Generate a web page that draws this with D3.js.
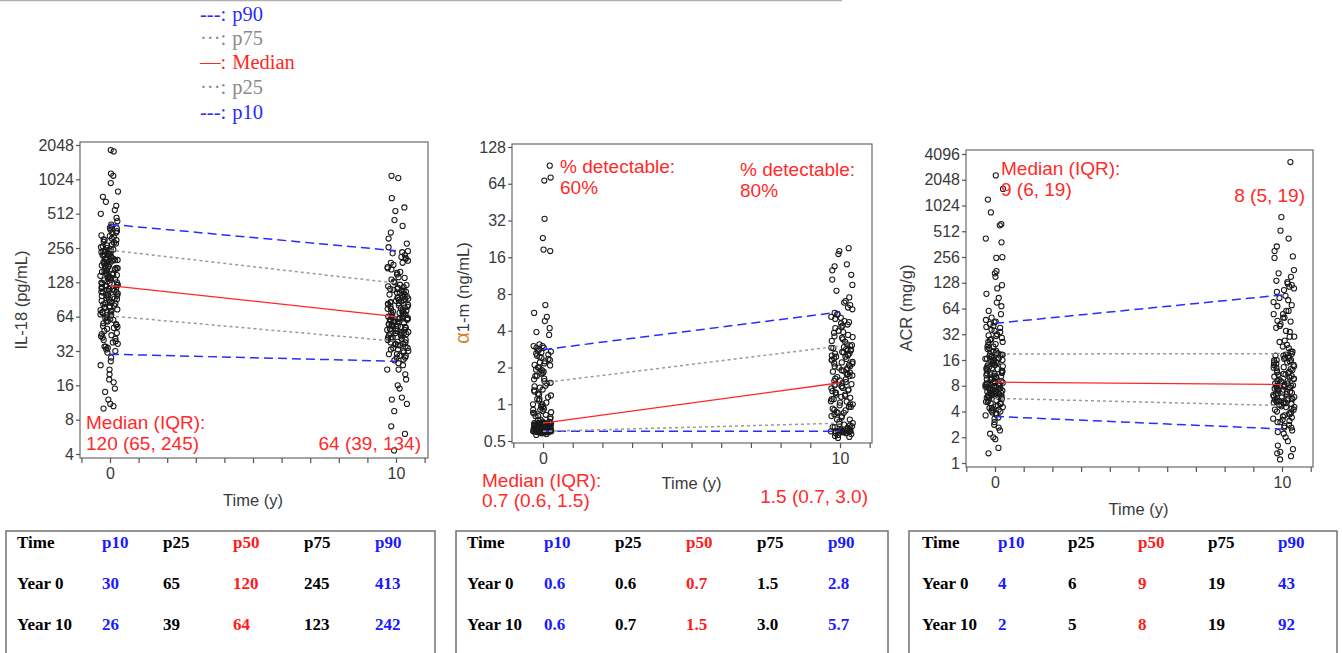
<!DOCTYPE html>
<html>
<head>
<meta charset="utf-8">
<script src="https://cdn.jsdelivr.net/npm/d3@7"></script>
<style>
  body { margin: 0; background: #fff; }
  svg { display: block; font-family: "Liberation Sans", Arial, sans-serif; }
</style>
</head>
<body>
<div id="chart"></div>
<script>
// ---- data ----
var times = [0, 10];
var pctKeys = ['p10', 'p25', 'p50', 'p75', 'p90'];
var tableHeader = ['Time', 'p10', 'p25', 'p50', 'p75', 'p90'];
var tableRows = ['Year 0', 'Year 10'];

var legendLabels = ['p90', 'p75', 'Median', 'p25', 'p10'];
var legendSymbols = ['---:', '\u00b7\u00b7\u00b7:', '\u2014:', '\u00b7\u00b7\u00b7:', '---:'];

// IL-18 (pg/mL)
var il18Ticks = [4, 8, 16, 32, 64, 128, 256, 512, 1024, 2048];
var il18Year0 = [10, 10.5, 11, 12, 14, 15, 17, 18, 20, 22, 24, 26, 28,
  31, 32, 33, 34, 35, 37, 38, 39, 41, 43, 44, 46, 48, 51, 53, 54, 56, 59, 61, 63,
  66, 68, 70, 72, 74, 76, 78, 80, 83, 85, 88, 90, 92, 95, 97, 100, 102, 105, 107, 110, 112, 114, 116, 118, 119,
  66, 71, 77, 84, 91, 98, 104, 111, 117,
  122, 126, 130, 134, 138, 142, 146, 150, 155, 160, 165, 170, 175, 180, 186, 192, 198, 205, 210, 216, 222, 228, 234, 240, 244,
  128, 140, 152, 168, 184, 200, 220, 238,
  250, 260, 270, 280, 290, 300, 310, 320, 330, 345, 360, 370, 385, 395, 410,
  440, 470, 510, 550, 600, 650, 720, 800, 950, 1100, 1150, 1800, 1850,
  35, 40, 45, 50, 55, 58, 62, 67, 73, 79, 86, 93, 99, 106, 113, 121, 127, 133, 139, 145, 151, 158, 164, 171, 178,
  185, 193, 201, 209, 218, 226, 235, 243, 255, 265, 285, 305, 325, 350, 380,
  42, 52, 60, 69, 82, 96, 108, 124, 136, 148, 162, 176, 190, 206, 224, 248, 275, 300];
var il18Year10 = [4.3, 6, 7, 9.5, 11, 12, 12.5, 15, 16, 18, 20, 22, 24,
  26.5, 27, 28, 29, 30, 31, 32, 33, 34, 35, 36, 36.5, 37, 38, 38.5,
  40, 41, 42, 43, 44, 45, 46, 47, 48, 49, 50, 51, 52, 53, 54, 55, 56, 57, 58, 59, 60, 61, 62, 63, 63.5,
  42, 46, 50, 54, 58, 62,
  65, 67, 69, 71, 73, 75, 77, 79, 81, 83, 85, 87, 89, 91, 93, 95, 97, 100, 103, 106, 109, 112, 115, 118, 121,
  68, 76, 84, 92, 102, 112,
  128, 135, 142, 150, 158, 166, 174, 182, 190, 198, 206, 214, 222, 230, 240,
  260, 280, 310, 350, 400, 450, 540, 580, 700, 1050, 1100,
  22, 25, 28, 30, 32, 34, 36, 38, 40, 42, 44, 46, 48, 50, 52, 55, 58, 61, 64, 66, 69, 72, 75, 78, 82,
  86, 90, 94, 99, 104, 110, 116, 122, 130, 140, 155, 170, 190, 210, 235,
  29, 33, 37, 41, 45, 49, 53, 57, 60, 63, 67, 71, 80, 88, 96, 108];
// rows: p10, p25, p50, p75, p90 ; columns: year 0, year 10
var il18Pct = [[30, 26], [65, 39], [120, 64], [245, 126], [413, 242]];
var il18Table = [['30', '65', '120', '245', '413'], ['26', '39', '64', '123', '242']];

// alpha1-microglobulin (ng/mL)
var a1mTicks = [0.5, 1, 2, 4, 8, 16, 32, 64, 128];
var a1mYear0 = [0.56, 0.57, 0.58, 0.58, 0.59, 0.59, 0.59, 0.6, 0.6, 0.6, 0.6, 0.6, 0.6, 0.6, 0.6, 0.6, 0.61, 0.61, 0.61, 0.62, 0.62, 0.62, 0.63, 0.63, 0.64,
  0.6, 0.6, 0.6, 0.6, 0.6, 0.6, 0.6, 0.6, 0.6, 0.6,
  0.64, 0.64, 0.65, 0.65, 0.65, 0.66, 0.66, 0.66, 0.67, 0.67, 0.67, 0.68, 0.68, 0.68, 0.69, 0.69, 0.69, 0.69, 0.7, 0.7, 0.7, 0.7, 0.7, 0.7, 0.7,
  0.72, 0.74, 0.76, 0.78, 0.8, 0.82, 0.84, 0.86, 0.88, 0.9, 0.92, 0.95, 0.98, 1.0, 1.03, 1.07, 1.1, 1.14, 1.18, 1.22, 1.27, 1.32, 1.37, 1.42, 1.48,
  1.55, 1.62, 1.7, 1.78, 1.85, 1.92, 2.0, 2.08, 2.16, 2.25, 2.35, 2.45, 2.55, 2.65, 2.75,
  2.9, 3.0, 3.1, 3.7, 3.9, 4.2, 4.8, 5.2, 5.6, 6.5, 18, 18.5, 23, 33, 68, 72, 90,
  0.6, 0.6, 0.6, 0.6, 0.6, 0.6, 0.6, 0.6, 0.6, 0.6, 0.62, 0.64, 0.66, 0.68, 0.7, 0.72, 0.75, 0.8, 0.85, 0.9,
  0.95, 1.0, 1.1, 1.2, 1.3, 1.4, 1.5, 1.6, 1.7, 1.8, 1.9, 2.0, 2.1, 2.2, 2.3, 2.4, 2.5, 2.6, 2.7, 2.8, 2.9, 3.0,
  0.61, 0.63, 0.65, 0.67, 0.69];
var a1mYear10 = [0.53, 0.54, 0.55, 0.56, 0.57, 0.58, 0.58, 0.59, 0.59, 0.6,
  0.6, 0.6, 0.6, 0.6, 0.61, 0.61, 0.62, 0.62, 0.63, 0.64, 0.65, 0.66, 0.67, 0.68, 0.69,
  0.72, 0.75, 0.78, 0.8, 0.83, 0.86, 0.89, 0.92, 0.95, 0.98, 1.0, 1.03, 1.06, 1.1, 1.13, 1.17, 1.2, 1.24, 1.28, 1.32, 1.36, 1.4, 1.43, 1.46, 1.49,
  0.85, 1.05, 1.25, 1.45,
  1.52, 1.57, 1.62, 1.67, 1.72, 1.77, 1.82, 1.87, 1.92, 1.98, 2.04, 2.1, 2.16, 2.22, 2.3, 2.38, 2.45, 2.52, 2.6, 2.68, 2.75, 2.82, 2.88, 2.94, 2.99,
  1.6, 1.9, 2.2, 2.5, 2.8,
  3.1, 3.25, 3.4, 3.55, 3.7, 3.85, 4.0, 4.2, 4.4, 4.6, 4.8, 5.0, 5.2, 5.4, 5.6,
  6.0, 6.5, 7.0, 7.5, 8.5, 9.5, 10.5, 11.5, 12.5, 13.5, 14, 17, 18, 19,
  0.6, 0.6, 0.6, 0.6, 0.6, 0.6, 0.65, 0.7, 0.75, 0.8, 0.9, 1.0, 1.1, 1.2, 1.3, 1.4, 1.55, 1.7, 1.85, 2.0,
  2.15, 2.3, 2.45, 2.6, 2.75, 2.9, 3.05, 3.3, 3.6, 3.9, 4.3, 4.7, 5.1, 5.5, 6.2, 6.8,
  0.85, 0.95, 1.15, 1.35, 1.75, 2.05, 2.35, 2.65, 3.5, 4.5];
var a1mPct = [[0.6, 0.6], [0.6, 0.7], [0.7, 1.5], [1.5, 3.0], [2.8, 5.7]];
var a1mTable = [['0.6', '0.6', '0.7', '1.5', '2.8'], ['0.6', '0.7', '1.5', '3.0', '5.7']];

// ACR (mg/g)
var acrTicks = [1, 2, 4, 8, 16, 32, 64, 128, 256, 512, 1024, 2048, 4096];
var acrYear0 = [1.3, 1.5, 1.9, 2.0, 2.2, 2.4, 2.6, 2.8, 3.0, 3.3,
  3.6, 3.7, 3.8, 3.9, 4.0, 4.1, 4.2, 4.4, 4.5, 4.7, 4.9, 5.0, 5.2, 5.4, 5.6,
  5.8, 5.9, 6.0, 6.1, 6.2, 6.3, 6.4, 6.5, 6.6, 6.7, 6.8, 6.9, 7.0, 7.1, 7.2, 7.4, 7.5, 7.7, 7.8, 8.0, 8.1, 8.3, 8.4, 8.6, 8.7,
  6.0, 6.6, 7.3, 7.9, 8.5,
  9.0, 9.3, 9.6, 9.9, 10.2, 10.5, 10.9, 11.3, 11.7, 12.1, 12.5, 13, 13.5, 14, 14.5, 15, 15.5, 16, 16.5, 17, 17.4, 17.8, 18.1, 18.4, 18.7,
  9.5, 11, 12.8, 14.8, 16.8,
  19.5, 20.5, 21.5, 23, 24.5, 26, 27.5, 29, 30.5, 32, 34, 36, 38, 40, 42,
  45, 47, 50, 55, 60, 68, 75, 85, 95, 110, 120, 150, 165, 175, 250, 255, 380, 420, 600, 620, 850, 1200, 1600, 2300,
  3.4, 3.8, 4.2, 4.6, 5.0, 5.4, 5.8, 6.2, 6.6, 7.0, 7.4, 7.8, 8.2, 8.6, 9.0, 9.5, 10, 10.6, 11.2, 11.8,
  12.5, 13.2, 14, 14.8, 15.6, 16.5, 17.5, 18.5, 20, 22, 24, 26, 28, 31, 35, 39, 44,
  4.4, 5.2, 6.4, 7.6, 8.8, 10.3, 12, 13.8, 16, 19, 23];
var acrYear10 = [1.1, 1.2, 1.3, 1.35, 1.45, 1.6, 1.8, 2.0, 2.2, 2.4,
  2.6, 2.7, 2.8, 3.0, 3.1, 3.2, 3.4, 3.5, 3.7, 3.8, 4.0, 4.2, 4.3, 4.5, 4.6,
  4.8, 4.9, 5.0, 5.1, 5.2, 5.3, 5.4, 5.5, 5.6, 5.8, 5.9, 6.0, 6.2, 6.4, 6.6, 6.8, 7.0, 7.2, 7.4, 7.6, 7.8, 7.9, 8.0, 8.1, 8.2,
  5.0, 5.7, 6.5, 7.3,
  8.5, 8.8, 9.1, 9.4, 9.7, 10, 10.4, 10.8, 11.2, 11.6, 12, 12.5, 13, 13.5, 14, 14.5, 15, 15.5, 16, 16.5, 17, 17.5, 18, 18.5, 18.9,
  9.2, 11, 13.2, 15.8,
  20, 22, 24, 27, 30, 34, 38, 42, 46, 50, 55, 60, 68, 76, 85,
  100, 110, 120, 130, 150, 165, 180, 250, 260, 300, 340, 420, 520, 750, 3300,
  2.3, 2.6, 3.0, 3.3, 3.6, 3.9, 4.2, 4.5, 4.8, 5.1, 5.4, 5.7, 6.0, 6.4, 6.8, 7.2, 7.6, 8.0, 8.5, 9.0,
  9.6, 10.2, 10.8, 11.5, 12.2, 13, 14, 15, 16, 17, 18, 20, 23, 26, 30, 35, 40, 45, 50, 55,
  60, 70, 80, 90, 105, 115, 125, 135];
var acrPct = [[3.5, 2.5], [5.7, 4.7], [8.8, 8.3], [18.8, 19], [43, 92]];
var acrTable = [['4', '6', '9', '19', '43'], ['2', '5', '8', '19', '92']];

// ---- styles ----
var blue = '#2b2bff', grey = '#9a9a9a', red = '#ff2626';
var pctColor = [blue, grey, red, grey, blue];
var pctDash = ['9,5', '3,3', null, '3,3', '9,5'];
var tableColColor = ['#000', '#1a1aff', '#000', '#ff1a1a', '#000', '#1a1aff'];
var legendColors = [blue, '#8a8a8a', red, '#8a8a8a', blue];

var svg = d3.select('#chart').append('svg')
  .attr('width', 1342)
  .attr('height', 653);

// clipped caption line at the very top
svg.append('line')
  .attr('x1', 0).attr('x2', 842).attr('y1', 0.5).attr('y2', 0.5)
  .attr('stroke', '#b0b0b0').attr('stroke-width', 1.5);

drawLegend();

drawPanel({
  frame: [80, 428, 142, 458], x0: 110, x10: 396,
  yDomain: [4, 2048], yRange: [454, 145], ticks: il18Ticks,
  year0: il18Year0, year10: il18Year10, pct: il18Pct,
  yLabel: 'IL-18 (pg/mL)', yLabelX: 21, yLabelY: 300,
  timeY: 506, tickY: 479,
  notes: [
    { text: 'Median (IQR):', x: 86, y: 429, anchor: 'start' },
    { text: '120 (65, 245)', x: 86, y: 450, anchor: 'start' },
    { text: '64 (39, 134)', x: 421, y: 450, anchor: 'end' }
  ]
});

drawPanel({
  frame: [512, 872, 144, 443], x0: 543, x10: 840,
  yDomain: [0.5, 128], yRange: [441, 147], ticks: a1mTicks,
  year0: a1mYear0, year10: a1mYear10, pct: a1mPct,
  yLabel: 'a1-m (ng/mL)', alpha: true, yLabelX: 463, yLabelY: 293,
  timeY: 489, tickY: 464,
  notes: [
    { text: '% detectable:', x: 560, y: 173, anchor: 'start' },
    { text: '60%', x: 560, y: 194, anchor: 'start' },
    { text: '% detectable:', x: 740, y: 176, anchor: 'start' },
    { text: '80%', x: 740, y: 197, anchor: 'start' },
    { text: 'Median (IQR):', x: 482, y: 487, anchor: 'start' },
    { text: '0.7 (0.6, 1.5)', x: 482, y: 507, anchor: 'start' },
    { text: '1.5 (0.7, 3.0)', x: 868, y: 503, anchor: 'end' }
  ]
});

drawPanel({
  frame: [966, 1313, 150, 467], x0: 995, x10: 1282,
  yDomain: [1, 4096], yRange: [463, 154], ticks: acrTicks,
  year0: acrYear0, year10: acrYear10, pct: acrPct,
  yLabel: 'ACR (mg/g)', yLabelX: 906, yLabelY: 308,
  timeY: 515, tickY: 488,
  notes: [
    { text: 'Median (IQR):', x: 1001, y: 175, anchor: 'start' },
    { text: '9 (6, 19)', x: 1001, y: 196, anchor: 'start' },
    { text: '8 (5, 19)', x: 1305, y: 202, anchor: 'end' }
  ]
});

drawTable(il18Table, 6, 435, [17, 102, 163, 233, 304, 375]);
drawTable(a1mTable, 456, 888, [467, 544, 615, 686, 757, 828]);
drawTable(acrTable, 909, 1337, [922, 998, 1068, 1138, 1208, 1278]);

// ################################
function drawLegend() {
  var baseY = [21, 45, 69, 94, 119];
  var g = svg.append('g').attr('font-family', '"Liberation Serif", "Times New Roman", serif');
  legendLabels.forEach(function(lab, i) {
    var t = g.append('text')
      .attr('x', 200).attr('y', baseY[i])
      .attr('font-size', 20.5)
      .attr('fill', legendColors[i]);
    t.append('tspan').text(legendSymbols[i]);
    t.append('tspan').attr('dx', 6).text(lab);
  });
}

function jitter(i, width, centre) {
  // deterministic scatter across the band (hash of the point index)
  var s = Math.sin(i * 12.9898 + 78.233) * 43758.5453;
  var f = s - Math.floor(s);
  return centre + (f - 0.5) * width;
}

function drawPanel(cfg) {
  var left = cfg.frame[0], right = cfg.frame[1], top = cfg.frame[2], bottom = cfg.frame[3];
  var x = d3.scaleLinear().domain([0, 10]).range([cfg.x0, cfg.x10]);
  var y = d3.scaleLog().base(2).domain(cfg.yDomain).range(cfg.yRange);
  var g = svg.append('g');

  g.append('rect')
    .attr('x', left).attr('y', top)
    .attr('width', right - left).attr('height', bottom - top)
    .attr('fill', 'none').attr('stroke', '#6a6a6a').attr('stroke-width', 1.2);

  // x axis
  var xAxis = d3.axisBottom(x)
    .tickValues(d3.range(-1, 12))
    .tickSizeOuter(0)
    .tickSize(5)
    .tickPadding(4)
    .tickFormat(function(d) { return (d === 0 || d === 10) ? d : ''; });
  var xAxisG = g.append('g')
    .attr('transform', 'translate(0,' + bottom + ')')
    .call(xAxis);
  xAxisG.select('.domain').remove();
  xAxisG.selectAll('line').attr('stroke', '#555').attr('stroke-width', 1.2);
  xAxisG.selectAll('text').attr('font-size', 16).attr('fill', '#3a3a3a')
    .attr('font-family', '"Liberation Sans", Arial, sans-serif')
    .attr('y', null).attr('dy', null)
    .attr('transform', 'translate(0,' + (cfg.tickY - bottom) + ')');

  // y axis
  var yAxis = d3.axisLeft(y)
    .tickValues(cfg.ticks)
    .tickSizeOuter(0)
    .tickSize(4)
    .tickPadding(2)
    .tickFormat(function(d) { return String(d); });
  var yAxisG = g.append('g')
    .attr('transform', 'translate(' + left + ',0)')
    .call(yAxis);
  yAxisG.select('.domain').remove();
  yAxisG.selectAll('line').attr('stroke', '#555').attr('stroke-width', 1.2);
  yAxisG.selectAll('text').attr('font-size', 16).attr('fill', '#3a3a3a')
    .attr('font-family', '"Liberation Sans", Arial, sans-serif');

  // axis titles
  g.append('text')
    .attr('x', (cfg.x0 + cfg.x10) / 2).attr('y', cfg.timeY)
    .attr('text-anchor', 'middle')
    .attr('font-size', 16.5).attr('fill', '#3a3a3a')
    .text('Time (y)');
  var yl = g.append('text')
    .attr('transform', 'translate(' + cfg.yLabelX + ',' + cfg.yLabelY + ') rotate(-90)')
    .attr('dy', '0.35em')
    .attr('text-anchor', 'middle')
    .attr('font-size', 16.5).attr('fill', '#3a3a3a');
  if (cfg.alpha) {
    yl.append('tspan').attr('fill', '#d9822b').attr('font-size', 20).text('\u03b1');
    yl.append('tspan').text(cfg.yLabel.slice(1));
  } else {
    yl.text(cfg.yLabel);
  }

  // scatter points
  var pts = [];
  cfg.year0.forEach(function(v, i) { pts.push({ t: jitter(i, 0.62, -0.03), v: v }); });
  cfg.year10.forEach(function(v, i) { pts.push({ t: 10 + jitter(i + 500, 0.74, 0.06), v: v }); });
  g.append('g').selectAll('circle')
    .data(pts)
    .enter().append('circle')
    .attr('cx', function(d) { return x(d.t); })
    .attr('cy', function(d) { return y(d.v); })
    .attr('r', 2.6)
    .attr('fill', 'none')
    .attr('stroke', '#1a1a1a')
    .attr('stroke-width', 1.05);

  // percentile lines
  var line = d3.line()
    .x(function(d, i) { return x(times[i]); })
    .y(function(d) { return y(d); });
  cfg.pct.forEach(function(vals, k) {
    g.append('path')
      .attr('d', line(vals))
      .attr('fill', 'none')
      .attr('stroke', pctColor[k])
      .attr('stroke-width', k === 2 ? 1.3 : 1.5)
      .attr('stroke-dasharray', pctDash[k]);
  });

  // annotations
  cfg.notes.forEach(function(n) {
    g.append('text')
      .attr('x', n.x).attr('y', n.y)
      .attr('text-anchor', n.anchor)
      .attr('font-size', 19)
      .attr('fill', '#ff2a2a')
      .text(n.text);
  });
}

function drawTable(rows, x1, x2, cols) {
  var g = svg.append('g')
    .attr('font-family', '"Liberation Serif", "Times New Roman", serif')
    .attr('font-weight', 'bold')
    .attr('font-size', 17);
  g.append('rect')
    .attr('x', x1).attr('y', 531)
    .attr('width', x2 - x1).attr('height', 140)
    .attr('fill', 'none').attr('stroke', '#707070').attr('stroke-width', 1.5);
  var rowY = [548, 589, 630];
  tableHeader.forEach(function(h, j) {
    g.append('text').attr('x', cols[j]).attr('y', rowY[0])
      .attr('fill', tableColColor[j]).text(h);
  });
  rows.forEach(function(r, i) {
    g.append('text').attr('x', cols[0]).attr('y', rowY[i + 1])
      .attr('fill', '#000').text(tableRows[i]);
    r.forEach(function(v, j) {
      g.append('text').attr('x', cols[j + 1]).attr('y', rowY[i + 1])
        .attr('fill', tableColColor[j + 1]).text(v);
    });
  });
}
</script>
</body>
</html>
